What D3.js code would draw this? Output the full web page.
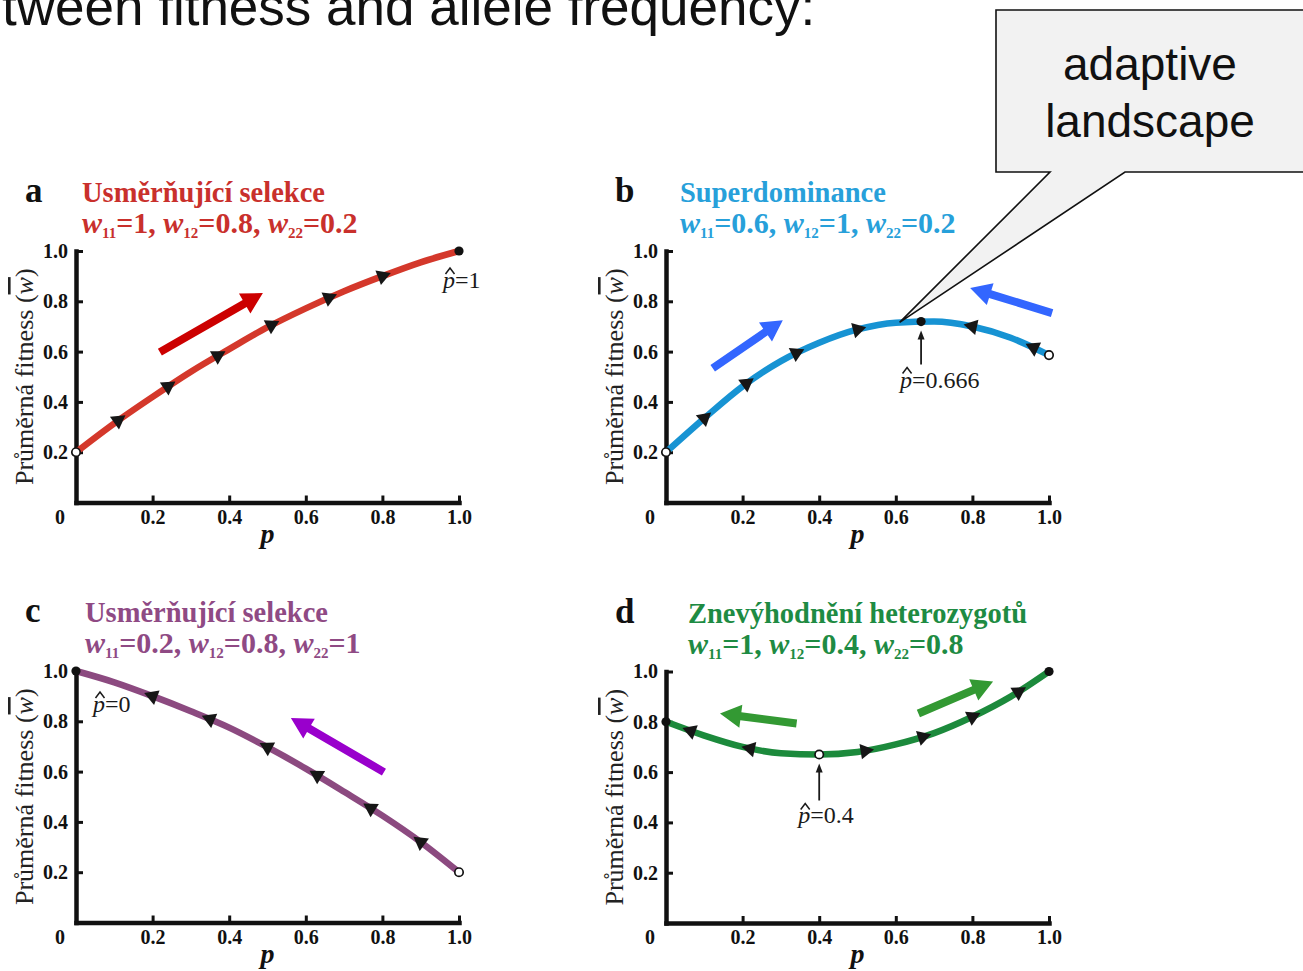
<!DOCTYPE html>
<html>
<head>
<meta charset="utf-8">
<script src="https://cdn.jsdelivr.net/npm/d3@7"></script>
<style>
  body { margin: 0; background: #ffffff; }
  svg { display: block; }
</style>
</head>
<body>
<svg id="chart" width="1303" height="971"></svg>
<script>
// ---- data -------------------------------------------------------------
const pGrid    = [0, 0.1, 0.2, 0.3, 0.4, 0.5, 0.6, 0.7, 0.8, 0.9, 1.0];
const fitnessA = [0.20, 0.315, 0.42, 0.52, 0.61, 0.697, 0.772, 0.84, 0.90, 0.955, 1.00];
const fitnessB = [0.20, 0.335, 0.462, 0.562, 0.635, 0.688, 0.715, 0.72, 0.70, 0.655, 0.586];
const fitnessC = [1.00, 0.955, 0.90, 0.84, 0.775, 0.697, 0.612, 0.52, 0.425, 0.32, 0.20];
const fitnessD = [0.80, 0.745, 0.70, 0.675, 0.67, 0.68, 0.71, 0.755, 0.82, 0.90, 1.00];

const panelLetters = ["a", "b", "c", "d"];
const panelTitles  = ["Usměrňující selekce", "Superdominance", "Usměrňující selekce", "Znevýhodnění heterozygotů"];
const w11 = [1, 0.6, 0.2, 1];
const w12 = [0.8, 1, 0.8, 0.4];
const w22 = [0.2, 0.2, 1, 0.8];

const xTicks = [0.2, 0.4, 0.6, 0.8, 1.0];
const yTicks = [0.2, 0.4, 0.6, 0.8, 1.0];

// arrowheads along each curve (allele frequency, direction of change)
const flowA = [0.11, 0.24, 0.37, 0.51, 0.66, 0.80];
const flowDirA = [1, 1, 1, 1, 1, 1];
const flowB = [0.10, 0.21, 0.34, 0.50, 0.80, 0.96];
const flowDirB = [1, 1, 1, 1, -1, -1];
const flowC = [0.20, 0.35, 0.50, 0.63, 0.77, 0.90];
const flowDirC = [-1, -1, -1, -1, -1, -1];
const flowD = [0.065, 0.22, 0.52, 0.67, 0.80, 0.92];
const flowDirD = [-1, -1, 1, 1, 1, 1];

// equilibria: stable (filled) and unstable (open)
const stableA = [1],     unstableA = [0];
const stableB = [0.666], unstableB = [0, 1];
const stableC = [0],     unstableC = [1];
const stableD = [0, 1],  unstableD = [0.4];

// labelled equilibrium in each panel
const eqLabelP = [1, 0.666, 0, 0.4];
const eqLabelText = ["1", "0.666", "0", "0.4"];

// ---- styling / layout ---------------------------------------------------
const titleColors = ["#c9302c", "#27a0da", "#8f4a84", "#1e8b43"];
const curveColors = ["#d4382b", "#1793d3", "#8c4a80", "#1c8a3c"];
const arrowColors = ["#cc0000", "#3366ff", "#9900cc", "#339933"];

const W = 383, H = 251.5;
const layout = [
  { left: 76,  top: 251,   titleDx: 6  },
  { left: 666, top: 251,   titleDx: 14 },
  { left: 76,  top: 671,   titleDx: 9  },
  { left: 666, top: 671.5, titleDx: 22 }
];

// big direction arrows, in (p, w) units of each panel
const bigArrows = [
  [[[0.219, 0.598], [0.488, 0.833]]],
  [[[0.122, 0.534], [0.305, 0.725]], [[1.008, 0.753], [0.794, 0.853]]],
  [[[0.804, 0.598], [0.561, 0.813]]],
  [[[0.341, 0.793], [0.141, 0.833]], [[0.659, 0.833], [0.854, 0.960]]]
];

// label placement for the marked equilibrium (pixel offsets from the dot)
const eqLabelStyle = [
  { dx: -16, dy: 37, arrow: false },
  { dx: -21, dy: 66, arrow: true },
  { dx: 17,  dy: 41, arrow: false },
  { dx: -21, dy: 69, arrow: true }
];

const SERIF = "'Liberation Serif', 'Times New Roman', serif";
const SANS = "'Liberation Sans', Arial, sans-serif";

const fits = [fitnessA, fitnessB, fitnessC, fitnessD];
const flows = [flowA, flowB, flowC, flowD];
const flowDirs = [flowDirA, flowDirB, flowDirC, flowDirD];
const stables = [stableA, stableB, stableC, stableD];
const unstables = [unstableA, unstableB, unstableC, unstableD];

const svg = d3.select("#chart");

// ---- helpers ------------------------------------------------------------
function lengthAtX(node, px) {
  let lo = 0, hi = node.getTotalLength();
  for (let i = 0; i < 40; i++) {
    const mid = (lo + hi) / 2;
    if (node.getPointAtLength(mid).x < px) lo = mid; else hi = mid;
  }
  return (lo + hi) / 2;
}

function blockArrow(x1, y1, x2, y2, shaft, headW, headL) {
  const dx = x2 - x1, dy = y2 - y1, len = Math.hypot(dx, dy);
  const ux = dx / len, uy = dy / len, nx = -uy, ny = ux;
  const bx = x2 - ux * headL, by = y2 - uy * headL;
  const s = shaft / 2, h = headW / 2;
  const pts = [
    [x1 + nx * s, y1 + ny * s], [bx + nx * s, by + ny * s], [bx + nx * h, by + ny * h],
    [x2, y2],
    [bx - nx * h, by - ny * h], [bx - nx * s, by - ny * s], [x1 - nx * s, y1 - ny * s]
  ];
  return pts.map(p => p.join(",")).join(" ");
}

const curvePoints = [];

// ---- panels -------------------------------------------------------------
layout.forEach((L, i) => {
  const x = d3.scaleLinear().domain([0, 1]).range([0, W]);
  const y = d3.scaleLinear().domain([0, 1]).range([H, 0]);
  const g = svg.append("g").attr("transform", `translate(${L.left},${L.top})`);

  // panel letter and title
  g.append("text").attr("x", -51).attr("y", -49)
    .attr("font-family", SERIF).attr("font-weight", "bold").attr("font-size", 35)
    .attr("fill", "#111").text(panelLetters[i]);
  g.append("text").attr("x", L.titleDx).attr("y", -49)
    .attr("font-family", SERIF).attr("font-weight", "bold").attr("font-size", 28.5)
    .attr("fill", titleColors[i]).text(panelTitles[i]);
  const pl = g.append("text").attr("x", L.titleDx).attr("y", -18)
    .attr("font-family", SERIF).attr("font-weight", "bold").attr("font-size", 30)
    .attr("fill", titleColors[i]);
  const subs = ["11", "12", "22"], vals = [w11[i], w12[i], w22[i]];
  vals.forEach((v, k) => {
    pl.append("tspan").attr("font-style", "italic").text("w");
    pl.append("tspan").attr("font-size", 15).attr("dy", 5).text(subs[k]);
    pl.append("tspan").attr("dy", -5).text("=" + v + (k < 2 ? ", " : ""));
  });

  // axes
  const xa = g.append("g").attr("transform", `translate(0,${H})`)
    .call(d3.axisBottom(x).tickValues(xTicks).tickFormat(d3.format(".1f"))
      .tickSize(-7).tickSizeOuter(0).tickPadding(7));
  const ya = g.append("g")
    .call(d3.axisLeft(y).tickValues(yTicks).tickFormat(d3.format(".1f"))
      .tickSize(-7).tickSizeOuter(0).tickPadding(8));
  [xa, ya].forEach(a => {
    a.select(".domain").attr("stroke", "#111").attr("stroke-width", 4.5).attr("stroke-linecap", "square");
    a.selectAll(".tick line").attr("stroke", "#111").attr("stroke-width", 3);
    a.selectAll(".tick text").attr("font-family", SERIF).attr("font-weight", "bold")
      .attr("font-size", 20).attr("fill", "#111");
  });
  g.append("text").attr("x", -16).attr("y", H + 21).attr("text-anchor", "middle")
    .attr("font-family", SERIF).attr("font-weight", "bold").attr("font-size", 20)
    .attr("fill", "#111").text("0");

  // axis titles
  const yl = g.append("text")
    .attr("transform", `translate(-43,${H / 2}) rotate(-90)`)
    .attr("text-anchor", "middle").attr("font-family", SERIF).attr("font-size", 26).attr("fill", "#222");
  yl.append("tspan").text("Průměrná fitness (");
  yl.append("tspan").attr("font-style", "italic").style("text-decoration", "overline").text("w");
  yl.append("tspan").text(")");
  g.append("text").attr("x", W / 2).attr("y", H + 40).attr("text-anchor", "middle")
    .attr("font-family", SERIF).attr("font-weight", "bold").attr("font-style", "italic")
    .attr("font-size", 28).attr("fill", "#111").text("p");

  // big direction arrows
  bigArrows[i].forEach(([a, b]) => {
    g.append("polygon")
      .attr("points", blockArrow(x(a[0]), y(a[1]), x(b[0]), y(b[1]), 8, 23, 21))
      .attr("fill", arrowColors[i]);
  });

  // fitness curve
  const data = pGrid.map((p, k) => [p, fits[i][k]]);
  const line = d3.line().x(d => x(d[0])).y(d => y(d[1])).curve(d3.curveMonotoneX);
  const path = g.append("path").datum(data).attr("d", line)
    .attr("fill", "none").attr("stroke", curveColors[i]).attr("stroke-width", 6.5);
  const node = path.node();
  const at = p => node.getPointAtLength(lengthAtX(node, x(p)));
  curvePoints.push({ at, L });

  // arrowheads along the curve
  flows[i].forEach((p, k) => {
    const len = lengthAtX(node, x(p));
    const c = node.getPointAtLength(len);
    const a = node.getPointAtLength(Math.max(0, len - 1));
    const b = node.getPointAtLength(len + 1);
    let ang = Math.atan2(b.y - a.y, b.x - a.x) * 180 / Math.PI;
    if (flowDirs[i][k] < 0) ang += 180;
    g.append("path").attr("d", d3.symbol().type(d3.symbolTriangle).size(105)())
      .attr("transform", `translate(${c.x},${c.y}) rotate(${ang + 90})`)
      .attr("fill", "#161616");
  });

  // equilibria
  stables[i].forEach(p => {
    const c = at(p);
    g.append("circle").attr("cx", c.x).attr("cy", c.y).attr("r", 4.6).attr("fill", "#111");
  });
  unstables[i].forEach(p => {
    const c = at(p);
    g.append("circle").attr("cx", c.x).attr("cy", c.y).attr("r", 4.2)
      .attr("fill", "#fff").attr("stroke", "#111").attr("stroke-width", 1.7);
  });

  // label of the marked equilibrium
  const c = at(eqLabelP[i]);
  const st = eqLabelStyle[i];
  const lx = c.x + st.dx, ly = c.y + st.dy;
  const t = g.append("text").attr("x", lx).attr("y", ly)
    .attr("font-family", SERIF).attr("font-size", 24).attr("fill", "#1a1a1a");
  t.append("tspan").attr("font-style", "italic").text("p");
  t.append("tspan").text("=" + eqLabelText[i]);
  g.append("path")
    .attr("d", `M${lx + 2.5},${ly - 14} L${lx + 7},${ly - 20} L${lx + 11.5},${ly - 14}`)
    .attr("fill", "none").attr("stroke", "#1a1a1a").attr("stroke-width", 1.5);
  if (st.arrow) {
    const top = c.y + 9, bottom = ly - 23;
    g.append("line").attr("x1", c.x).attr("x2", c.x).attr("y1", bottom).attr("y2", top + 6)
      .attr("stroke", "#1a1a1a").attr("stroke-width", 1.8);
    g.append("path").attr("d", `M${c.x},${top} L${c.x - 3.5},${top + 9} L${c.x + 3.5},${top + 9} Z`)
      .attr("fill", "#1a1a1a");
  }
});

// ---- heading and callout -----------------------------------------------
svg.append("text").attr("x", 2).attr("y", 25)
  .attr("font-family", SANS).attr("font-size", 53).attr("fill", "#111")
  .text("tween fitness and allele frequency:");

const tip = (() => {
  const cp = curvePoints[1];
  const pt = cp.at(0.61);
  return [cp.L.left + pt.x, cp.L.top + pt.y];
})();
svg.append("path")
  .attr("d", `M996,10 H1310 V172 H1125 L${tip[0]},${tip[1]} L1050,172 H996 Z`)
  .attr("fill", "#f2f2f2").attr("stroke", "#111").attr("stroke-width", 1.6);
const callout = svg.append("text").attr("text-anchor", "middle")
  .attr("font-family", SANS).attr("font-size", 46).attr("fill", "#111");
callout.append("tspan").attr("x", 1150).attr("y", 80).text("adaptive");
callout.append("tspan").attr("x", 1150).attr("y", 137).text("landscape");
</script>
</body>
</html>
